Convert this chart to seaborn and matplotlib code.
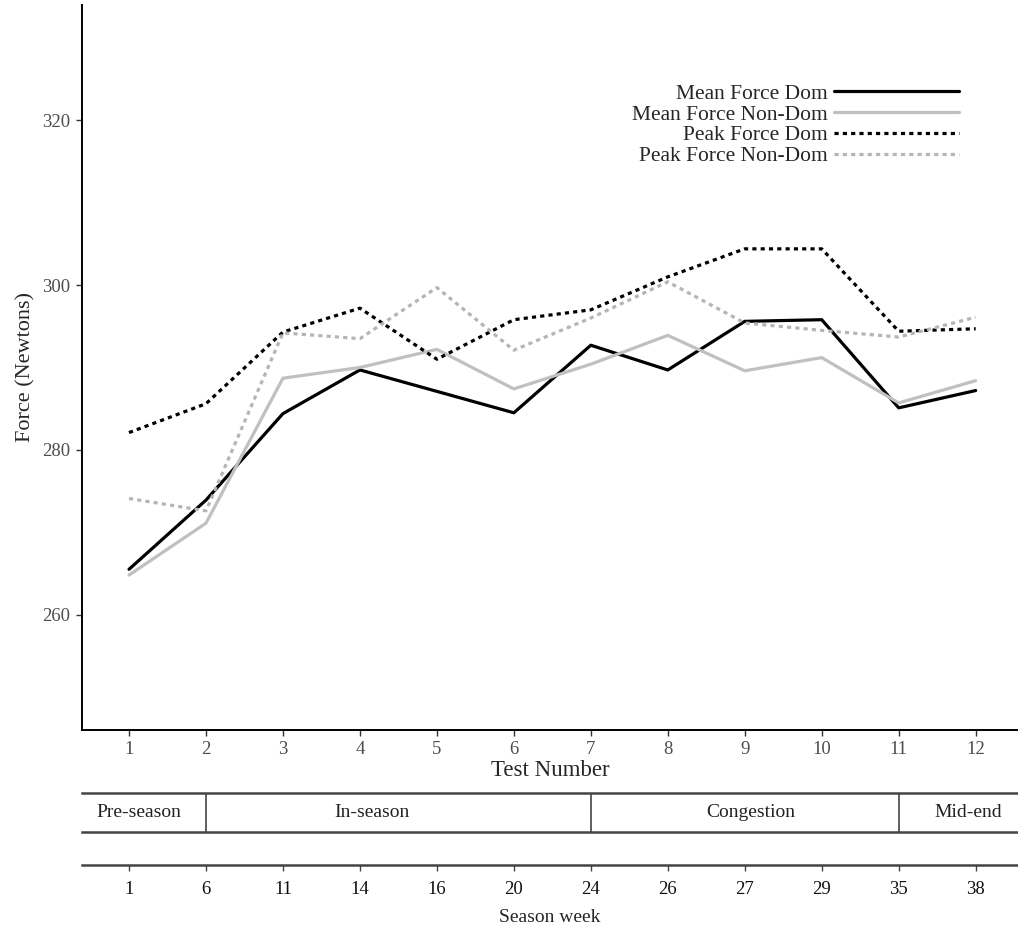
import pandas as pd
import matplotlib
matplotlib.use("Agg")
import matplotlib.pyplot as plt
import seaborn as sns

# данные
tests = list(range(1, 13))
mean_dom = [265.5, 273.9, 284.4, 289.7, 287.1, 284.5, 292.7, 289.7, 295.6, 295.8, 285.1, 287.2]
mean_nondom = [264.8, 271.1, 288.7, 290.0, 292.2, 287.4, 290.4, 293.9, 289.6, 291.2, 285.7, 288.4]
peak_dom = [282.1, 285.6, 294.3, 297.2, 291.0, 295.8, 297.0, 301.0, 304.4, 304.4, 294.4, 294.7]
peak_nondom = [274.1, 272.6, 294.2, 293.5, 299.7, 292.1, 296.0, 300.4, 295.4, 294.5, 293.7, 296.1]

series_names = ['Mean Force Dom', 'Mean Force Non-Dom', 'Peak Force Dom', 'Peak Force Non-Dom']
season_weeks = ['1', '6', '11', '14', '16', '20', '24', '26', '27', '29', '35', '38']
phase_names = ['Pre-season', 'In-season', 'Congestion', 'Mid-end']
phase_label_x = [1.13, 4.16, 9.08, 11.9]
phase_bounds = [2, 7, 11]

df = pd.DataFrame({
    'test': tests * 4,
    'force': mean_dom + mean_nondom + peak_dom + peak_nondom,
    'series': sum([[s] * 12 for s in series_names], []),
})

sns.set_theme(style='ticks')
plt.rcParams['font.family'] = ['Liberation Serif', 'DejaVu Serif']

fig = plt.figure(figsize=(10.18, 9.26), dpi=100)
ax = fig.add_axes([0.0806, 0.2117, 0.9194, 0.7829])

palette = {'Mean Force Dom': '#000000', 'Mean Force Non-Dom': '#c0c0c0',
           'Peak Force Dom': '#000000', 'Peak Force Non-Dom': '#b5b5b5'}
dashes = {'Mean Force Dom': '', 'Mean Force Non-Dom': '',
          'Peak Force Dom': (1.3, 1.3), 'Peak Force Non-Dom': (1.3, 1.3)}

sns.lineplot(data=df, x='test', y='force', hue='series', style='series',
             hue_order=series_names, style_order=series_names,
             palette=palette, dashes=dashes, linewidth=2.3, ax=ax)

ax.set_xlim(0.39, 12.55)
ax.set_ylim(246, 334)
ax.set_xticks(tests)
ax.set_yticks([260, 280, 300, 320])
sns.despine(ax=ax)
for s in ['left', 'bottom']:
    ax.spines[s].set_linewidth(1.4)
    ax.spines[s].set_color('black')
ax.tick_params(axis='both', length=4.3, width=1.0, color='#333333',
               labelcolor='#4d4d4d', labelsize=13.5, pad=4)
ax.set_xlabel('Test Number', fontsize=16.5, labelpad=1)
ax.set_ylabel('Force (Newtons)', fontsize=16, labelpad=5)

handles, labels = ax.get_legend_handles_labels()
ax.legend(handles, labels, loc='upper right', frameon=False, markerfirst=False,
          fontsize=15.5, labelspacing=0.04, handlelength=5.8, handletextpad=0.3,
          borderpad=0, borderaxespad=0,
          bbox_to_anchor=(959 / 1018, 1 - 83.5 / 926), bbox_transform=fig.transFigure)

# полоса с фазами сезона
band = fig.add_axes([0.0806, 0.1015, 0.9194, 0.0421])
band.set_xlim(0.39, 12.55)
band.set_ylim(0, 1)
band.set_xticks([])
band.set_yticks([])
for s in ['left', 'right']:
    band.spines[s].set_visible(False)
for s in ['top', 'bottom']:
    band.spines[s].set_linewidth(1.8)
    band.spines[s].set_color('#444444')
for b in phase_bounds:
    band.axvline(b, color='#444444', linewidth=1.2)
for name, xpos in zip(phase_names, phase_label_x):
    band.text(xpos, 0.5, name, ha='center', va='center', fontsize=14, color='#222222')

# ось с неделями сезона
weeks = fig.add_axes([0.0806, 0.0659, 0.9194, 0.001])
weeks.set_xlim(0.39, 12.55)
weeks.set_yticks([])
for s in ['left', 'right', 'top']:
    weeks.spines[s].set_visible(False)
weeks.spines['bottom'].set_linewidth(1.8)
weeks.spines['bottom'].set_color('#444444')
weeks.set_xticks(tests)
weeks.set_xticklabels(season_weeks)
weeks.tick_params(axis='x', length=4, width=1.0, color='#444444',
                  labelcolor='#111111', labelsize=13.5, pad=7.5)
weeks.set_xlabel('Season week', fontsize=14, labelpad=8)

fig.savefig('out.png', dpi=100)
